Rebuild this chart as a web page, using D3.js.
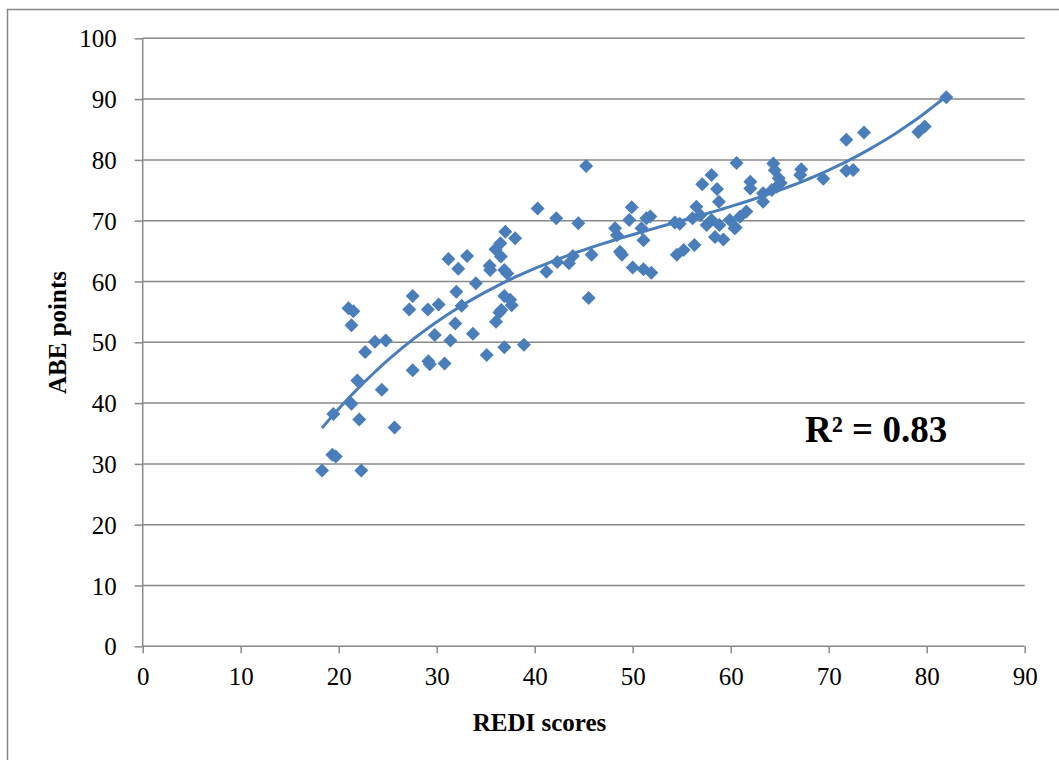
<!DOCTYPE html>
<html lang="en">
<head>
    <meta charset="UTF-8">
    <script src="https://d3js.org/d3.v7.min.js"></script>
    <style>
        body { margin: 0; background: #fff; }
        .tick text { font: 25px "Liberation Serif", "Times New Roman", serif; fill: #000; }
        .axis-title { font: bold 25px "Liberation Serif", "Times New Roman", serif; fill: #000; }
        .r2 { font: bold 37px "Liberation Serif", "Times New Roman", serif; fill: #000; }
    </style>
</head>
<body>
<div id="chart"></div>
<script>
// REDI scores (x) and ABE points (y)
const redi = [18.3, 19.35, 19.7, 22.3, 19.45, 21.3, 22.1, 21.9, 24.4, 25.7,
    22.7, 23.7, 24.8, 21.0, 21.5, 21.3, 27.55, 27.55, 27.2, 29.1,
    30.2, 29.15, 29.3, 30.8, 29.8, 31.4, 31.9, 32.55, 32.0, 33.7,
    34.0, 35.1, 36.9, 38.9, 36.05, 36.4, 36.6, 36.9, 37.5, 37.65,
    41.2, 32.2, 35.4, 35.45, 36.9, 37.2, 31.2, 33.1, 36.0, 36.5,
    37.0, 38.0, 36.55, 40.3, 42.2, 44.45, 45.25, 42.3, 43.5, 43.9,
    45.8, 45.5, 48.2, 48.4, 48.7, 48.9, 49.9, 49.65, 50.0, 51.1,
    51.9, 50.9, 51.1, 51.4, 51.8, 54.3, 54.8, 54.5, 55.2, 56.3,
    56.5, 56.9, 56.1, 57.1, 58.05, 58.6, 58.8, 57.55, 58.05, 58.85,
    58.4, 59.25, 59.9, 60.5, 60.95, 61.6, 60.6, 62.0, 62.0, 63.3,
    63.3, 64.35, 64.5, 64.9, 65.1, 64.2, 64.7, 67.2, 67.1, 69.45,
    71.8, 73.6, 71.8, 72.5, 79.15, 79.8, 82.0, 60.4];
const abe = [28.9, 31.5, 31.2, 28.9, 38.2, 39.9, 37.3, 43.7, 42.2, 36.0,
    48.4, 50.1, 50.3, 55.6, 55.1, 52.8, 45.4, 57.6, 55.4, 55.4,
    56.2, 46.9, 46.4, 46.5, 51.2, 50.3, 53.1, 56.0, 58.3, 51.4,
    59.7, 47.9, 49.2, 49.6, 53.4, 54.9, 55.3, 57.6, 57.0, 56.1,
    61.6, 62.1, 62.6, 61.9, 61.9, 61.3, 63.7, 64.2, 65.3, 66.3,
    68.2, 67.1, 64.1, 72.0, 70.4, 69.6, 79.0, 63.2, 63.0, 64.2,
    64.4, 57.3, 68.75, 67.6, 64.9, 64.4, 72.2, 70.1, 62.3, 62.0,
    61.45, 68.75, 66.8, 70.4, 70.7, 69.7, 69.5, 64.4, 65.2, 66.0,
    72.3, 70.9, 70.4, 76.0, 77.5, 75.2, 73.1, 69.3, 70.1, 69.3,
    67.3, 66.9, 70.1, 68.9, 70.65, 71.5, 79.5, 76.4, 75.3, 74.5,
    73.1, 79.4, 78.3, 77.0, 76.2, 75.05, 75.6, 78.45, 77.5, 76.9,
    83.3, 84.5, 78.2, 78.35, 84.6, 85.5, 90.3, 68.75];

const xTicks = [0, 10, 20, 30, 40, 50, 60, 70, 80, 90];
const yTicks = [0, 10, 20, 30, 40, 50, 60, 70, 80, 90, 100];
const rSquaredLabel = "R² = 0.83";

const points = redi.map((x, i) => ({x: x, y: abe[i]}));

// Dimensions
const width = 1059, height = 760;
const margin = {left: 142.7, top: 38.3, right: 34.3, bottom: 113.7};
const innerW = width - margin.left - margin.right;
const innerH = height - margin.top - margin.bottom;

const svg = d3.select("#chart").append("svg")
    .attr("width", width)
    .attr("height", height);

// outer chart border (right/bottom edges fall outside the picture)
svg.append("rect")
    .attr("x", 7.5).attr("y", 9.5)
    .attr("width", width + 20).attr("height", height + 20)
    .attr("fill", "none")
    .attr("stroke", "#888")
    .attr("stroke-width", 1.5);

const g = svg.append("g")
    .attr("transform", `translate(${margin.left}, ${margin.top})`);

// Scales
const xScale = d3.scaleLinear().domain([0, 90]).range([0, innerW]);
const yScale = d3.scaleLinear().domain([0, 100]).range([innerH, 0]);

// Gridlines
g.append("g")
    .selectAll("line")
    .data(yTicks.filter(d => d > 0))
    .join("line")
    .attr("x1", 0).attr("x2", innerW)
    .attr("y1", d => yScale(d)).attr("y2", d => yScale(d))
    .attr("stroke", "#888")
    .attr("stroke-width", 1.5);

// Axes
const yAxis = d3.axisLeft(yScale).tickValues(yTicks).tickSize(8).tickPadding(18);
const yG = g.append("g").call(yAxis);
const xAxis = d3.axisBottom(xScale).tickValues(xTicks).tickSize(7).tickPadding(14);
const xG = g.append("g").attr("transform", `translate(0, ${innerH})`).call(xAxis);

[yG, xG].forEach(a => {
    a.select(".domain").attr("stroke", "#888").attr("stroke-width", 1.5)
        .attr("d", a === yG ? `M0,${innerH}V0` : `M0,0H${innerW}`);
    a.selectAll(".tick line").attr("stroke", "#888").attr("stroke-width", 1.5);
});
yG.selectAll(".tick text").attr("dy", "0.34em");
xG.selectAll(".tick text").attr("dy", "0.72em");

// Polynomial (order 3) trendline, least squares fit of the data
function polyFit(pts, order) {
    const n = order + 1;
    const A = Array.from({length: n}, () => new Array(n + 1).fill(0));
    pts.forEach(p => {
        for (let r = 0; r < n; r++) {
            for (let c = 0; c < n; c++) A[r][c] += Math.pow(p.x, r + c);
            A[r][n] += p.y * Math.pow(p.x, r);
        }
    });
    for (let i = 0; i < n; i++) {
        let max = i;
        for (let k = i + 1; k < n; k++) if (Math.abs(A[k][i]) > Math.abs(A[max][i])) max = k;
        [A[i], A[max]] = [A[max], A[i]];
        for (let k = i + 1; k < n; k++) {
            const f = A[k][i] / A[i][i];
            for (let j = i; j <= n; j++) A[k][j] -= f * A[i][j];
        }
    }
    const coef = new Array(n).fill(0);
    for (let i = n - 1; i >= 0; i--) {
        let s = A[i][n];
        for (let j = i + 1; j < n; j++) s -= A[i][j] * coef[j];
        coef[i] = s / A[i][i];
    }
    return coef;
}
const coef = polyFit(points, 3);
const [xMin, xMax] = d3.extent(redi);
const trend = d3.range(0, 101).map(i => {
    const x = xMin + (xMax - xMin) * i / 100;
    return {x: x, y: coef.reduce((s, c, k) => s + c * Math.pow(x, k), 0)};
});

// Markers
g.append("g")
    .selectAll("path")
    .data(points)
    .join("path")
    .attr("d", d3.symbol(d3.symbolSquare, 98))
    .attr("transform", d => `translate(${xScale(d.x)}, ${yScale(d.y)}) rotate(45)`)
    .attr("fill", "#4a7ebb");

g.append("path")
    .datum(trend)
    .attr("d", d3.line().x(d => xScale(d.x)).y(d => yScale(d.y)))
    .attr("fill", "none")
    .attr("stroke", "#4a7ebb")
    .attr("stroke-width", 3);

// Titles
svg.append("text")
    .attr("class", "axis-title")
    .attr("x", 539.5).attr("y", 730.5)
    .attr("text-anchor", "middle")
    .text("REDI scores");

svg.append("text")
    .attr("class", "axis-title")
    .attr("transform", "translate(66, 332.5) rotate(-90)")
    .attr("text-anchor", "middle")
    .text("ABE points");

svg.append("text")
    .attr("class", "r2")
    .attr("x", 805).attr("y", 441.5)
    .text(rSquaredLabel);
</script>
</body>
</html>
